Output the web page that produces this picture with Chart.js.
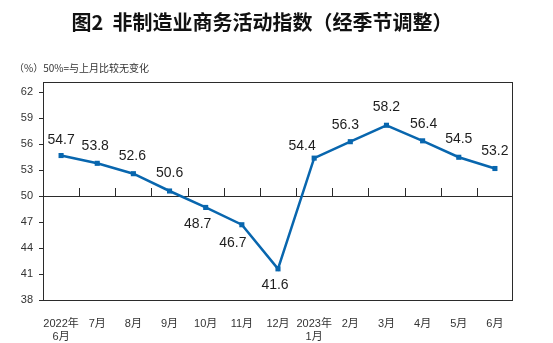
<!DOCTYPE html>
<html>
<head>
<meta charset="utf-8">
<script src="https://cdn.jsdelivr.net/npm/chart.js@4/dist/chart.umd.min.js"></script>
<style>
  html, body { margin: 0; padding: 0; background: #fff; }
  #wrap { width: 553px; height: 343px; position: relative; }
</style>
</head>
<body>
<div id="wrap"><canvas id="pmiChart"></canvas></div>
<script>
// 非制造业商务活动指数，2022年6月 - 2023年6月
const months = [
    ['2022年', '6月'], '7月', '8月', '9月', '10月', '11月', '12月',
    ['2023年', '1月'], '2月', '3月', '4月', '5月', '6月'
];
const indexValues = [54.7, 53.8, 52.6, 50.6, 48.7, 46.7, 41.6, 54.4, 56.3, 58.2, 56.4, 54.5, 53.2];
const yTicks = [38, 41, 44, 47, 50, 53, 56, 59, 62];
const baseline = 50;

const titleText = '图2  非制造业商务活动指数（经季节调整）';
const unitText = '（%）50%=与上月比较无变化';

// label offsets relative to each point (dx, dy)
const labelOffsets = [
    [0, -15], [-2, -17], [-1, -18], [0, -18], [-8, 17], [-9, 18], [-3, 16],
    [-12, -12], [-5, -17], [0, -18], [1, -17], [0, -18], [0, -17]
];

const lineColor = '#0866ae';

// frame, 50 line with its tick marks, headings and point labels
const decorPlugin = {
    id: 'decor',
    beforeDatasetsDraw(chart) {
        const { ctx, chartArea: a, scales } = chart;
        const yBase = scales.y.getPixelForValue(baseline);
        ctx.save();
        ctx.strokeStyle = '#2b2b2b';
        ctx.lineWidth = 1;
        ctx.strokeRect(a.left + 0.5, a.top + 0.5, a.right - a.left - 1, a.bottom - a.top);
        ctx.beginPath();
        ctx.moveTo(a.left, Math.round(yBase) + 0.5);
        ctx.lineTo(a.right, Math.round(yBase) + 0.5);
        const step = (a.right - a.left) / months.length;
        for (let i = 1; i < months.length; i++) {
            const x = Math.round(scales.x.getPixelForValue(i) - step / 2) + 0.5;
            ctx.moveTo(x, Math.round(yBase));
            ctx.lineTo(x, Math.round(yBase) - 8);
        }
        ctx.stroke();
        ctx.restore();
    },
    afterDatasetsDraw(chart) {
        const { ctx } = chart;
        const meta = chart.getDatasetMeta(0);
        ctx.save();
        ctx.fillStyle = '#1e1e1e';
        ctx.font = '14px "Liberation Sans", Arial, sans-serif';
        ctx.textAlign = 'center';
        ctx.textBaseline = 'middle';
        meta.data.forEach((pt, i) => {
            const [dx, dy] = labelOffsets[i];
            ctx.fillText(indexValues[i].toFixed(1), pt.x + dx, pt.y + dy);
        });
        ctx.restore();
    },
    afterDraw(chart) {
        const { ctx } = chart;
        ctx.save();
        ctx.fillStyle = '#111';
        ctx.textBaseline = 'middle';
        ctx.textAlign = 'center';
        ctx.font = 'bold 20px "Noto Sans CJK SC", sans-serif';
        ctx.fillText(titleText, 262, 22);
        ctx.textAlign = 'left';
        ctx.fillStyle = '#333';
        ctx.font = '10px "Noto Sans CJK SC", sans-serif';
        ctx.fillText(unitText, 14, 68);
        ctx.restore();
    }
};

new Chart(document.getElementById('pmiChart'), {
    type: 'line',
    data: {
        labels: months,
        datasets: [{
            data: indexValues,
            borderColor: lineColor,
            backgroundColor: lineColor,
            borderWidth: 2.5,
            pointStyle: 'rect',
            pointRadius: 3.6,
            pointBorderWidth: 0,
            tension: 0,
            clip: false
        }]
    },
    options: {
        responsive: true,
        maintainAspectRatio: false,
        animation: false,
        layout: { padding: { top: 82, right: 40, left: 0, bottom: 0 } },
        plugins: {
            legend: { display: false },
            tooltip: { enabled: false }
        },
        scales: {
            x: {
                offset: true,
                grid: { display: false, offset: true },
                border: { display: false },
                ticks: {
                    color: '#333',
                    font: { size: 11, family: '"Liberation Sans", "Noto Sans CJK SC", sans-serif', lineHeight: 1.2 },
                    padding: 9,
                    maxRotation: 0,
                    autoSkip: false
                },
                afterFit(scale) { scale.height = 43; }
            },
            y: {
                min: 38,
                max: 63.2,
                afterBuildTicks(scale) { scale.ticks = yTicks.map(v => ({ value: v })); },
                grid: { drawOnChartArea: false, tickLength: 4, color: '#2b2b2b' },
                border: { display: false },
                ticks: {
                    color: '#333',
                    font: { size: 11, family: '"Liberation Sans", sans-serif' },
                    padding: 6
                },
                afterFit(scale) { scale.width = 43; }
            }
        }
    },
    plugins: [decorPlugin]
});
</script>
</body>
</html>
